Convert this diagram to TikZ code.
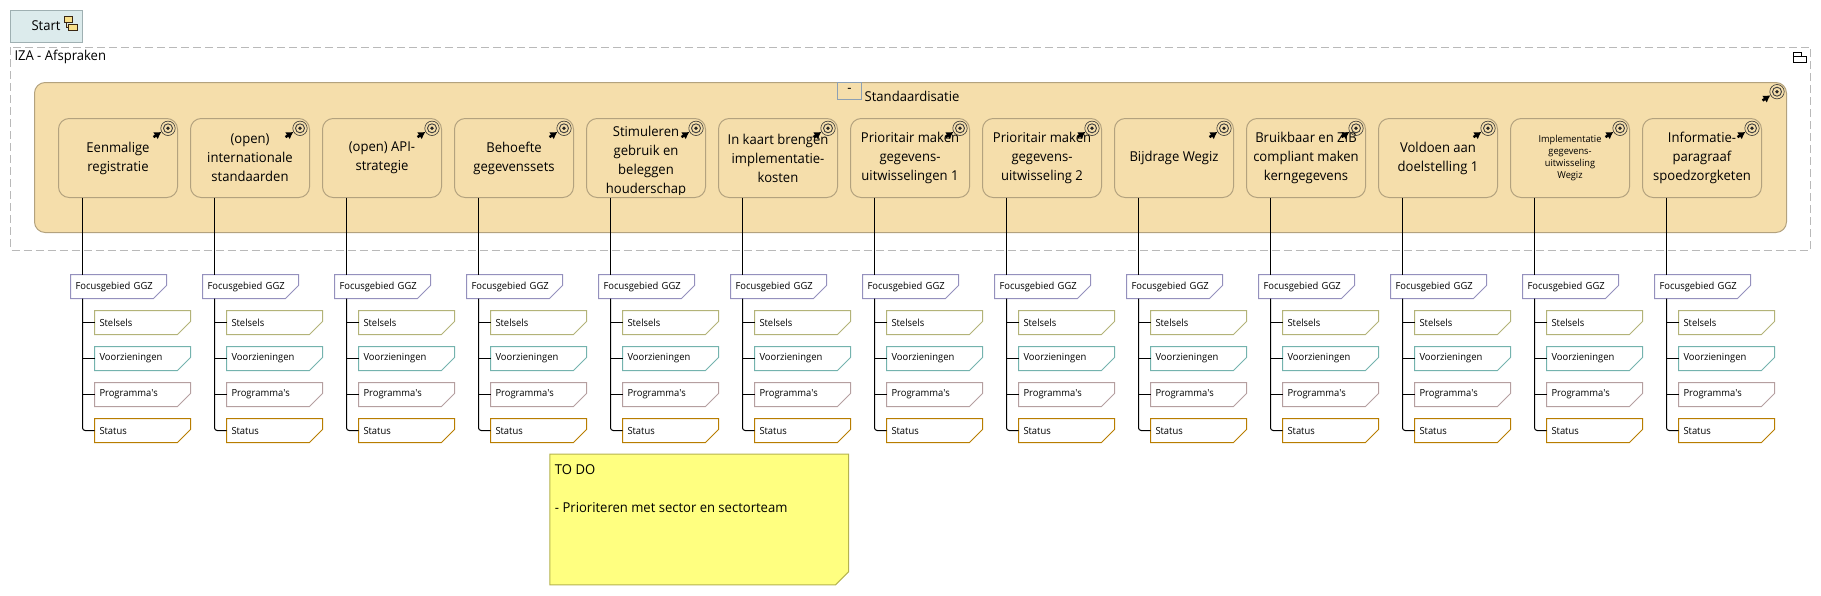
\documentclass[tikz,border=0pt]{standalone}
\usepackage{fontspec}
\setmainfont[FakeStretch=0.96]{Open Sans}
\usetikzlibrary{arrows.meta}
\definecolor{tan_fill}{HTML}{F5DEAB}
\definecolor{tan_line}{HTML}{B3A27E}
\definecolor{start_fill}{HTML}{DCEBEC}
\definecolor{start_line}{HTML}{9FB0B2}
\definecolor{minus_line}{HTML}{8DA0B3}
\definecolor{focus_line}{HTML}{9490BD}
\definecolor{stelsel_line}{HTML}{B3B378}
\definecolor{voorz_line}{HTML}{74B3AE}
\definecolor{progr_line}{HTML}{B59FA0}
\definecolor{status_line}{HTML}{B87D00}
\definecolor{note_fill}{HTML}{FFFF80}
\definecolor{note_line}{HTML}{B5B34F}
\definecolor{icon_fill}{HTML}{F8E08A}
\newcommand{\goalfont}{\fontsize{10.2}{14.25}\selectfont}
\newcommand{\goalsmall}{\fontsize{7.2}{9}\selectfont}
\newcommand{\tagfont}{\fontsize{7.35}{9}\selectfont}
\makeatletter
\pgfdeclareshape{tagshape}{
  \inheritsavedanchors[from=rectangle]
  \inheritanchorborder[from=rectangle]
  \inheritanchor[from=rectangle]{center}
  \inheritanchor[from=rectangle]{north}
  \inheritanchor[from=rectangle]{south}
  \inheritanchor[from=rectangle]{west}
  \inheritanchor[from=rectangle]{east}
  \inheritanchor[from=rectangle]{north west}
  \backgroundpath{
    \southwest \pgf@xa=\pgf@x \pgf@ya=\pgf@y
    \northeast \pgf@xb=\pgf@x \pgf@yb=\pgf@y
    \pgfpathmoveto{\pgfqpoint{\pgf@xa}{\pgf@ya}}
    \pgfpathlineto{\pgfqpoint{\pgf@xa}{\pgf@yb}}
    \pgfpathlineto{\pgfqpoint{\pgf@xb}{\pgf@yb}}
    \pgfpathlineto{\pgfqpoint{\pgf@xb}{\dimexpr\pgf@ya+9.75pt}}
    \pgfpathlineto{\pgfqpoint{\dimexpr\pgf@xb-9.75pt}{\pgf@ya}}
    \pgfpathclose
  }
}
\makeatother
\tikzset{
  goalbox/.style={draw=tan_line, fill=tan_fill, rounded corners=8pt, minimum width=89.25pt, minimum height=59.25pt, inner sep=0pt, outer sep=0pt, line width=0.75pt},
  tagbox/.style={draw=#1, fill=white, shape=tagshape, minimum height=18pt, text width=64.5pt, inner xsep=3.75pt, inner ysep=0pt, outer sep=0pt, align=left, font=\tagfont, line width=0.75pt},
  plainlabel/.style={inner sep=0pt, outer sep=0pt, anchor=west, font=\goalfont},
  link/.style={black, line width=0.75pt},
  goal icon/.pic={
    \draw[black!80, line width=0.45pt] (0,0) circle (7.2);
    \draw[black!75, line width=0.7pt] (0,0) circle (4.5);
    \fill[black!85] (0,0) circle (1.9);
    \draw[black, line width=1.9pt, -{Latex[length=5.2pt,width=6.4pt]}] (-14.5,8.8) -- (-6.6,3.6);
  }
}
\begin{document}
\begin{tikzpicture}[x=0.75pt, y=-0.75pt]
\useasboundingbox (0,0) rectangle (1821,596);
\node[draw=start_line, fill=start_fill, minimum width=54pt, minimum height=24pt, inner sep=0pt, outer sep=0pt, line width=0.75pt, font=\goalfont] (node_start) at (46,26) {Start\hspace{4.5pt}};
\draw[fill=icon_fill, draw=black!70!brown, line width=0.5pt] (64.5,16) rectangle (72.5,22) (68,24.5) rectangle (77,30) (66,22) |- (68,27);
\draw[gray!55, dash pattern=on 6pt off 3pt, line width=0.75pt] (10.5,47) rectangle (1810.5,250);
\node[plainlabel] (node_iza) at (14.5,57) {IZA - Afspraken};
\draw[black, line width=0.75pt] (1793.5,56) rectangle (1806.5,62.5) (1793.5,56) |- (1801,52.5) -- (1801,56);
\node[draw=tan_line, fill=tan_fill, rounded corners=8pt, minimum width=1314pt, minimum height=112.5pt, inner sep=0pt, outer sep=0pt, line width=0.75pt] (node_group) at (910.5,157.5) {};
\node[draw=minus_line, fill=tan_fill, minimum width=18pt, minimum height=13pt, inner sep=0pt, outer sep=0pt, line width=0.6pt, font=\goalfont] (node_minus) at (849.5,90.7) {-};
\node[plainlabel] (node_std) at (864.7,96) {Standaardisatie};
\pic at (1777,91.7) {goal icon};
\foreach \n/\gfont/\lbl in {
  1/\goalfont/{Eenmalige\\registratie},
  2/\goalfont/{(open)\\internationale\\standaarden},
  3/\goalfont/{(open) API-\\strategie},
  4/\goalfont/{Behoefte\\gegevenssets},
  5/\goalfont/{\rule{0pt}{12.4pt}Stimuleren\\gebruik en\\beleggen\\houderschap},
  6/\goalfont/{In kaart brengen\\implementatie-\\kosten},
  7/\goalfont/{Prioritair maken\\gegevens-\\uitwisselingen 1},
  8/\goalfont/{Prioritair maken\\gegevens-\\uitwisseling 2},
  9/\goalfont/{Bijdrage Wegiz},
  10/\goalfont/{Bruikbaar en ZIB\\compliant maken\\kerngegevens},
  11/\goalfont/{Voldoen aan\\doelstelling 1},
  12/\goalsmall/{Implementatie\\gegevens-\\uitwisseling\\Wegiz},
  13/\goalfont/{Informatie-\\paragraaf\\spoedzorgketen}}
{
  \coordinate (trunk_\n) at ({82.5+132*(\n-1)},0);
  \node[goalbox, path picture={\clip ([yshift=2.6pt]path picture bounding box.south west) rectangle (path picture bounding box.north east); \node[align=center, font=\gfont, inner sep=0pt] at (path picture bounding box.center) {\lbl};}] (node_goal\n) at ({118+132*(\n-1)},158) {};
  \pic at ({168+132*(\n-1)},128.3) {goal icon};
  \node[tagbox=focus_line] (node_focus\n) at ({118.5+132*(\n-1)},286.5) {Focusgebied GGZ};
  \node[tagbox=stelsel_line] (node_stelsel\n) at ({142.5+132*(\n-1)},322.5) {Stelsels};
  \node[tagbox=voorz_line] (node_voorz\n) at ({142.5+132*(\n-1)},358.5) {Voorzieningen};
  \node[tagbox=progr_line] (node_progr\n) at ({142.5+132*(\n-1)},394.5) {Programma\textquotesingle s};
  \node[tagbox=status_line] (node_status\n) at ({142.5+132*(\n-1)},430.5) {Status};
  \draw[link] (trunk_\n |- node_goal\n.south) -- (trunk_\n |- node_focus\n.north);
  \draw[link, rounded corners=2pt] (trunk_\n |- node_focus\n.south) |- (node_status\n.west);
  \draw[link] (trunk_\n |- node_stelsel\n.west) -- (node_stelsel\n.west);
  \draw[link] (trunk_\n |- node_voorz\n.west) -- (node_voorz\n.west);
  \draw[link] (trunk_\n |- node_progr\n.west) -- (node_progr\n.west);
}
\node[draw=note_line, fill=note_fill, shape=tagshape, inner xsep=3.75pt, inner ysep=3.5pt, outer sep=0pt, line width=0.75pt, font=\goalfont] (node_note) at (699.25,519.5) {\parbox[c][91pt][t]{216.4pt}{\rule{0pt}{12pt}TO DO\\[14.25pt]- Prioriteren met sector en sectorteam}};
\end{tikzpicture}
\end{document}
